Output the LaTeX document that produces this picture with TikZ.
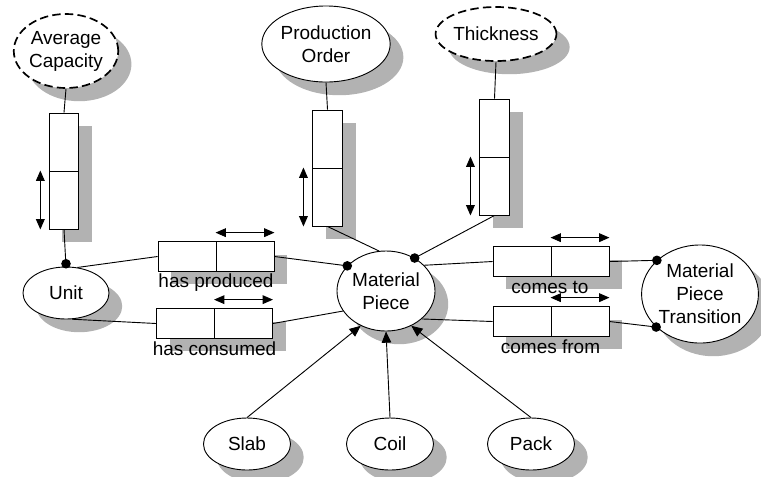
\documentclass[tikz,border=0pt]{standalone}
\usepackage{fontspec}
\setmainfont{Liberation Sans}
\usetikzlibrary{shapes.geometric,shadows,arrows.meta}
\begin{document}
\begin{tikzpicture}[x=0.025cm,y=-0.025cm,
  font=\fontsize{13.5}{16.3}\selectfont,
  line width=0.65pt,
  shad/.style={general shadow={fill=black!30, shadow xshift=0.33cm, shadow yshift=-0.33cm}},
  ent/.style={ellipse, draw, fill=white, shad, inner sep=0pt, align=center},
  attr/.style={ent, line width=1.2pt, dash pattern=on 6pt off 3pt},
  half/.style={rectangle, draw, fill=white, shad, inner sep=0pt},
  vhalf/.style={half, minimum width=0.74cm, minimum height=1.45cm},
  hhalf/.style={half, minimum width=1.45cm, minimum height=0.73cm},
  dbl/.style={{Triangle[length=0.26cm,width=0.22cm]}-{Triangle[length=0.26cm,width=0.22cm]}},
  arr/.style={-{Triangle[length=0.28cm,width=0.24cm]}},
  lbl/.style={anchor=base, inner sep=0pt},
  dotr/.style={fill=black}
]
\useasboundingbox (0,0) rectangle (761,476);

% entities and attributes
\node[attr, minimum width=2.6cm, minimum height=1.85cm] (ac) at (66,51) {Average\\Capacity};
\node[ent, minimum width=3.0cm, minimum height=1.9cm] (po) at (326,44) {Production\\Order};
\node[attr, minimum width=2.9cm, minimum height=1.35cm] (th) at (496,34) {Thickness};
\node[ent, minimum width=2.15cm, minimum height=1.3cm] (unit) at (66,293) {Unit};
\node[ent, minimum width=2.45cm, minimum height=2.0cm] (mp) at (386,291) {Material\\Piece};
\node[ent, minimum width=2.85cm, minimum height=2.45cm] (mpt) at (700,294) {Material\\Piece\\Transition};
\node[ent, minimum width=2.175cm, minimum height=1.3cm] (slab) at (247,444) {Slab};
\node[ent, minimum width=2.175cm, minimum height=1.3cm] (coil) at (390,444) {Coil};
\node[ent, minimum width=2.175cm, minimum height=1.3cm] (pack) at (531,444) {Pack};

% vertical relation boxes
\node[vhalf] (ac1) at (64,142) {};
\node[vhalf] (ac2) at (64,200) {};
\node[vhalf] (po1) at (327.5,139) {};
\node[vhalf] (po2) at (327.5,197) {};
\node[vhalf] (th1) at (494.5,128) {};
\node[vhalf] (th2) at (494.5,186) {};

% horizontal relation boxes
\node[hhalf] (hp1) at (187,256.5) {};
\node[hhalf] (hp2) at (245,256.5) {};
\node[hhalf] (hc1) at (185.5,323.5) {};
\node[hhalf] (hc2) at (243.5,323.5) {};
\node[hhalf] (ct1) at (522,261.5) {};
\node[hhalf] (ct2) at (580,261.5) {};
\node[hhalf] (cf1) at (522,321.5) {};
\node[hhalf] (cf2) at (580,321.5) {};

% labels
\node[lbl] (hpl) at (216,287) {has produced};
\node[lbl] (hcl) at (214.5,355) {has consumed};
\node[lbl] (ctl) at (550,293) {comes to};
\node[lbl] (cfl) at (550.5,353) {comes from};

% connectors
\draw (ac.south) -- (ac1.north);
\draw (ac2.south) -- (unit.north);
\fill[dotr] ([yshift=0.07cm]unit.north) circle (0.12cm);
\draw (po.south) -- (po1.north);
\draw (po2.south) -- (mp.100);
\draw (th.south) -- (th1.north);
\draw (th2.south) -- (mp.49);
\fill[dotr] (mp.49) circle (0.12cm);
\draw (unit.66) -- (hp1.west);
\draw (hp2.east) -- (mp.147);
\fill[dotr] (mp.147) circle (0.12cm);
\draw (unit.283) -- (hc1.west);
\draw (hc2.east) -- (mp.205);
\draw (mp.34) -- (ct1.west);
\draw (ct2.east) -- (mpt.142);
\fill[dotr] (mpt.142) circle (0.12cm);
\draw (mp.-38) -- (cf1.west);
\draw (cf2.east) -- (mpt.217);
\fill[dotr] (mpt.217) circle (0.12cm);
\draw[arr] (slab.north) -- (mp.234);
\draw[arr] (coil.north) -- (mp.south);
\draw[arr] (pack.north) -- (mp.306);

% cardinality arrows
\draw[dbl] ([xshift=-0.21cm]ac2.north west) -- ([xshift=-0.21cm]ac2.south west);
\draw[dbl] ([xshift=-0.22cm]po2.north west) -- ([xshift=-0.22cm]po2.south west);
\draw[dbl] ([xshift=-0.22cm]th2.north west) -- ([xshift=-0.22cm]th2.south west);
\draw[dbl] ([yshift=0.22cm]hp2.north west) -- ([yshift=0.22cm]hp2.north east);
\draw[dbl] ([yshift=0.22cm]hc2.north west) -- ([yshift=0.22cm]hc2.north east);
\draw[dbl] ([yshift=0.22cm]ct2.north west) -- ([yshift=0.22cm]ct2.north east);
\draw[dbl] ([yshift=0.22cm]cf2.north west) -- ([yshift=0.22cm]cf2.north east);
\end{tikzpicture}
\end{document}
